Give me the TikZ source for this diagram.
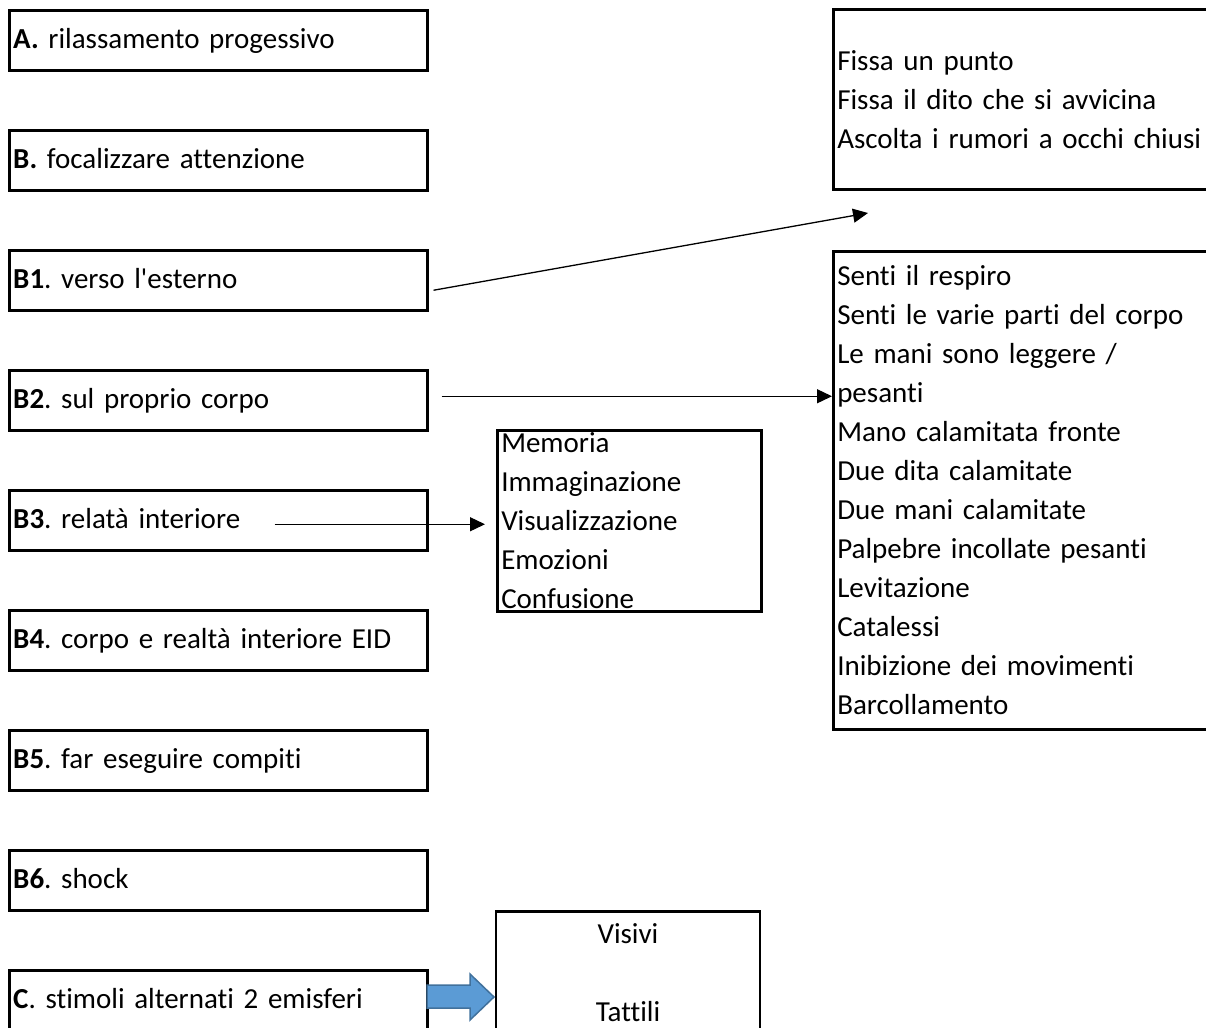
\documentclass[tikz,border=0pt]{standalone}
\usepackage{fontspec}
\setmainfont{Carlito}[Ligatures={TeXOff,CommonOff}]
\usetikzlibrary{arrows.meta, positioning}

\definecolor{arrowblue}{HTML}{5B9BD5}
\definecolor{arrowedge}{HTML}{41719C}

\begin{document}
\frenchspacing
\begin{tikzpicture}[
            x = 0.5pt, y = -0.5pt, % one unit per pixel of the page
            > = {Triangle[length=7.5pt, width=7pt]}, % arrow head style
            node distance = 28.75pt, % gap between the left boxes
            line width = 0.65pt % line style
        ]

        \tikzstyle{every node}=[
            font = \fontsize{14.5pt}{19.5pt}\selectfont
        ]
        \tikzstyle{stepbox}=[
            draw = black,
            line width = 1.25pt,
            anchor = north west,
            align = left,
            text width = 205pt,
            text height = 11pt,
            text depth = 3pt,
            inner xsep = 2pt,
            minimum height = 30pt
        ]
        \tikzstyle{listbox}=[
            draw = black,
            line width = 1.25pt,
            anchor = north west,
            align = left,
            inner xsep = 2pt,
            inner ysep = 0pt
        ]

        \useasboundingbox (0,0) rectangle (1206,1028);
        \clip (0,0) rectangle (1206,1028);

        % left column
        \node[stepbox] (a) at (8,9) {\textbf{A.} rilassamento progessivo};
        \node[stepbox] (b) [below=of a] {\textbf{B.} focalizzare attenzione};
        \node[stepbox] (b1) [below=of b] {\textbf{B1}. verso l'esterno};
        \node[stepbox] (b2) [below=of b1] {\textbf{B2}. sul proprio corpo};
        \node[stepbox] (b3) [below=of b2] {\textbf{B3}. relatà interiore};
        \node[stepbox] (b4) [below=of b3] {\textbf{B4}. corpo e realtà interiore EID};
        \node[stepbox] (b5) [below=of b4] {\textbf{B5}. far eseguire compiti};
        \node[stepbox] (b6) [below=of b5] {\textbf{B6}. shock};
        \node[stepbox] (c) [below=of b6] {\textbf{C}. stimoli alternati 2 emisferi};

        % right and middle lists
        \node[listbox, text width=194pt, minimum height=90pt] (esterno) at (832,8)
            {Fissa un punto\\Fissa il dito che si avvicina\\Ascolta i rumori a occhi chiusi};
        \node[listbox, text width=194pt, minimum height=239pt] (corpo) at (832,250)
            {Senti il respiro\\Senti le varie parti del corpo\\Le mani sono leggere /\\pesanti\\
             Mano calamitata fronte\\Due dita calamitate\\Due mani calamitate\\
             Palpebre incollate pesanti\\Levitazione\\Catalessi\\
             Inibizione dei movimenti\\Barcollamento};
        \node[listbox, text width=128pt, minimum height=90.5pt] (interiore) at (496,429)
            {Memoria\\Immaginazione\\Visualizzazione\\Emozioni\\Confusione};
        \node[listbox, anchor=north, align=center, text width=128pt,
              inner ysep=6.2pt, text depth=60pt] (stimoli) at (628,910)
            {Visivi\\[19.5pt]Tattili};

        % connectors
        \coordinate (b1out) at ([xshift=2.5pt, yshift=-5pt]b1.east);
        \coordinate (esternoin) at (868,213);
        \coordinate (b2out) at ([xshift=6.5pt, yshift=2pt]b2.east);
        \coordinate (b3out) at ([xshift=-77pt, yshift=-2pt]b3.east);

        \draw[->] (b1out) -- (esternoin);
        \draw[->] (b2out) -- (b2out -| corpo.west);
        \draw[->, shorten >=5.5pt] (b3out) -- (b3out -| interiore.west);

        % block arrow from C
        \draw[fill=arrowblue, draw=arrowedge, line width=0.75pt]
            (427,985) -- (470,985) -- (470,974) -- (494,997)
            -- (470,1020) -- (470,1008) -- (427,1008) -- cycle;

    \end{tikzpicture}
\end{document}
